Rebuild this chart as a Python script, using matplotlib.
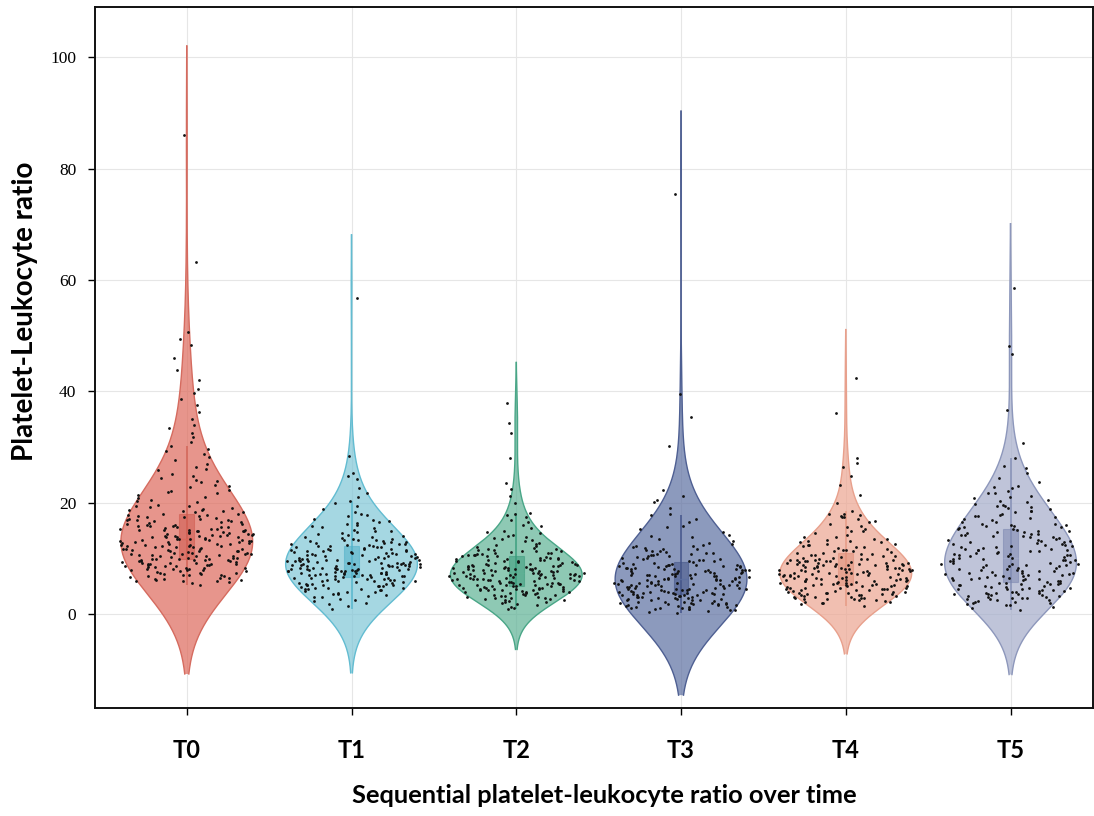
import numpy as np
import matplotlib.pyplot as plt
from matplotlib.patches import Rectangle

# Data
labels = ['T0', 'T1', 'T2', 'T3', 'T4', 'T5']

t0 = [5.3, 5.8, 6.0, 6.2, 6.4, 6.5, 6.7, 6.9, 7.0, 7.1, 7.3, 7.4, 7.6, 7.8, 7.9, 5.6, 6.1, 6.6, 7.2, 7.7,
      6.3, 6.8, 7.5, 7.9, 6.0, 7.0, 5.9, 7.4,
      8.0, 8.2, 8.3, 8.5, 8.7, 8.8, 9.0, 9.1, 9.3, 9.4, 9.6, 9.8, 9.9, 10.1, 10.2, 10.4, 10.5, 10.7, 10.9, 11.0,
      11.2, 11.3, 11.5, 11.7, 11.8, 8.1, 8.6, 9.2, 9.7, 10.3, 10.8, 11.4, 11.9, 8.4, 8.9, 9.5, 10.0, 10.6, 11.1,
      11.6, 8.3, 9.0, 9.9, 10.4, 11.3, 8.8, 9.6, 10.2, 11.0, 11.8, 9.3, 10.7, 8.5, 10.9, 9.8, 8.2, 9.1, 9.7,
      10.5, 11.4, 8.7, 10.0, 11.7, 9.4, 10.8,
      12.0, 12.2, 12.3, 12.5, 12.7, 12.8, 13.0, 13.1, 13.3, 13.5, 13.6, 13.8, 14.0, 14.1, 14.3, 14.4, 14.6, 14.8,
      14.9, 15.1, 15.2, 15.4, 15.6, 15.7, 15.9, 12.1, 12.6, 13.2, 13.7, 14.2, 14.7, 15.3, 15.8, 12.4, 12.9, 13.4,
      13.9, 14.5, 15.0, 15.5, 12.0, 12.8, 13.6, 14.4, 15.2, 12.5, 13.3, 14.1, 14.9, 15.6, 13.0, 14.0, 15.0, 12.2,
      13.8, 12.3, 13.1, 13.9, 14.6, 15.4, 12.7, 13.5, 14.3, 15.1, 15.8,
      16.0, 16.2, 16.4, 16.6, 16.8, 17.0, 17.2, 17.4, 17.6, 17.8, 18.0, 18.3, 18.5, 18.7, 18.9, 19.2, 19.4, 16.1,
      16.5, 16.9, 17.3, 17.7, 18.1, 18.6, 19.0, 19.5, 16.3, 17.1, 17.9, 18.8, 19.6, 16.7, 17.5, 18.4, 16.9,
      20.1, 20.6, 21.1, 21.5, 22.0, 22.4, 22.8, 23.3, 23.7, 24.1, 24.5, 24.9, 20.9, 21.7, 23.0, 23.9, 20.4, 22.2,
      25.2, 25.9, 26.5, 27.0, 27.7, 28.3, 28.8, 29.3, 26.1, 29.7,
      30.2, 31.0, 31.8, 32.5, 33.4, 34.0, 35.1, 36.3, 37.5, 38.6, 39.8,
      40.5, 42.0, 43.9, 46.0, 48.3, 49.5, 50.6, 63.2, 86.0]

t1 = [0.9, 1.5, 2.0, 2.4, 2.8, 3.1, 3.3, 3.5, 3.7, 3.9, 2.6, 3.2, 1.8, 3.6,
      4.0, 4.2, 4.4, 4.5, 4.7, 4.9, 5.0, 5.2, 5.3, 5.5, 5.6, 5.8, 5.9, 6.1, 6.2, 6.4, 6.5, 6.7, 6.8, 6.9, 4.1,
      4.6, 5.1, 5.4, 5.7, 6.0, 6.3, 6.6, 6.9, 4.3, 4.8, 5.2, 5.8, 6.4, 6.8, 4.5, 5.5, 6.1, 6.7, 5.0, 6.0, 4.7,
      5.3, 6.5, 5.9,
      7.0, 7.1, 7.2, 7.3, 7.4, 7.5, 7.6, 7.7, 7.8, 7.9, 8.0, 8.1, 8.2, 8.3, 8.4, 8.5, 8.6, 8.7, 8.8, 8.9, 9.0,
      9.1, 9.2, 9.3, 9.4, 9.5, 9.6, 9.7, 9.8, 9.9, 7.1, 7.3, 7.6, 7.9, 8.1, 8.4, 8.7, 8.9, 9.2, 9.5, 9.8, 7.2,
      7.5, 7.8, 8.2, 8.5, 8.8, 9.1, 9.4, 9.7, 7.0, 7.4, 7.7, 8.0, 8.3, 8.6, 9.0, 9.3, 9.6, 9.9, 7.2, 7.8, 8.4,
      9.0, 9.6, 7.5, 8.1, 8.7, 9.3, 8.2,
      10.0, 10.2, 10.3, 10.5, 10.6, 10.8, 10.9, 11.1, 11.2, 11.4, 11.5, 11.7, 11.8, 12.0, 12.2, 12.4, 12.6, 12.8,
      13.0, 13.2, 13.4, 13.6, 13.8, 10.1, 10.4, 10.7, 11.0, 11.3, 11.6, 11.9, 12.3, 12.7, 13.1, 13.5, 13.9, 10.2,
      10.6, 11.0, 11.4, 11.8, 12.1, 12.5, 12.9, 13.3, 13.7, 10.3, 10.9, 11.5, 12.2, 12.8, 13.4, 10.5, 11.2, 12.0,
      12.6,
      14.1, 14.3, 14.6, 14.9, 15.2, 15.5, 15.8, 16.1, 16.4, 16.8, 17.2, 17.6, 18.0, 18.4, 18.9, 19.4, 19.9, 14.4,
      15.0, 15.7, 16.3, 17.0, 17.9, 14.8, 16.6,
      20.3, 21.0, 21.8, 22.7, 24.3, 24.9, 25.4, 28.5, 56.7]

t2 = [0.9, 1.2, 1.6, 1.9, 2.1, 2.3, 2.5, 2.7, 2.9, 3.0, 3.1, 3.2, 3.3, 3.4, 3.5, 3.6, 3.7, 3.8, 3.9, 2.4, 2.8,
      3.0, 3.5, 1.4, 2.6, 3.3, 3.8, 2.2,
      4.0, 4.1, 4.2, 4.3, 4.4, 4.5, 4.6, 4.7, 4.8, 4.9, 5.0, 5.1, 5.2, 5.3, 5.4, 5.5, 5.6, 5.7, 5.8, 5.9, 4.2,
      4.4, 4.6, 4.8, 5.0, 5.2, 5.4, 5.6, 5.8, 4.1, 4.5, 4.9, 5.3, 5.7, 4.3, 4.7, 5.1, 5.5, 5.9, 4.6,
      6.0, 6.1, 6.2, 6.3, 6.4, 6.5, 6.6, 6.7, 6.8, 6.9, 7.0, 7.1, 7.2, 7.3, 7.4, 7.5, 7.6, 7.7, 7.8, 7.9, 8.0,
      8.1, 8.2, 8.3, 8.4, 8.5, 8.6, 8.7, 8.8, 8.9, 6.1, 6.3, 6.5, 6.7, 6.9, 7.1, 7.3, 7.5, 7.7, 7.9, 8.1, 8.3,
      8.5, 8.7, 8.9, 6.2, 6.6, 7.0, 7.4, 7.8, 8.2, 8.6, 6.4, 6.8, 7.2, 7.6, 8.0, 8.4, 8.8, 7.0, 7.5, 8.0, 6.5,
      7.3, 8.5,
      9.0, 9.1, 9.3, 9.4, 9.5, 9.7, 9.8, 10.0, 10.1, 10.3, 10.4, 10.6, 10.7, 10.9, 11.0, 11.2, 11.3, 11.5, 11.7,
      11.9, 9.2, 9.6, 9.9, 10.2, 10.5, 10.8, 11.1, 11.4, 11.8, 9.0, 9.4, 9.8, 10.2, 10.6, 11.0, 11.6, 9.5, 10.4,
      11.3, 10.0,
      12.1, 12.4, 12.8, 13.1, 13.5, 13.9, 14.2, 14.6, 15.0, 15.5, 16.0, 16.5, 16.9, 12.6, 13.3, 14.0, 14.8, 15.8,
      12.2, 13.7,
      17.5, 17.8, 18.0, 18.2, 20.0, 21.2, 22.5, 23.6, 28.0, 32.6, 34.4, 38.0]

t3 = [0.3, 0.5, 0.6, 0.8, 0.9, 1.0, 1.1, 1.2, 1.3, 1.4, 1.5, 1.6, 1.7, 1.8, 1.9, 2.0, 2.1, 2.2, 2.3, 2.4, 2.5,
      2.6, 2.7, 2.8, 2.9, 0.7, 1.1, 1.5, 1.9, 2.3, 2.7, 1.3, 1.7, 2.1, 2.5, 2.9, 1.0, 2.0, 2.6, 1.8,
      3.0, 3.1, 3.2, 3.3, 3.4, 3.5, 3.6, 3.7, 3.8, 3.9, 4.0, 4.1, 4.2, 4.3, 4.4, 4.5, 4.6, 4.7, 4.8, 4.9, 5.0,
      5.1, 5.2, 5.3, 5.4, 5.5, 5.6, 5.7, 5.8, 5.9, 3.1, 3.3, 3.5, 3.7, 3.9, 4.1, 4.3, 4.5, 4.7, 4.9, 5.1, 5.3,
      5.5, 5.7, 5.9, 3.2, 3.6, 4.0, 4.4, 4.8, 5.2, 5.6, 3.4, 3.8, 4.2, 4.6, 5.0, 5.4, 5.8, 4.0,
      6.0, 6.1, 6.2, 6.3, 6.4, 6.5, 6.6, 6.7, 6.8, 6.9, 7.0, 7.1, 7.2, 7.3, 7.4, 7.5, 7.6, 7.7, 7.8, 7.9, 8.0,
      8.1, 8.2, 8.3, 8.4, 8.5, 8.6, 8.7, 8.8, 8.9, 6.2, 6.5, 6.8, 7.1, 7.4, 7.7, 8.0, 8.3, 8.6, 8.9, 6.1, 6.4,
      6.7, 7.0, 7.3, 7.6, 7.9, 8.2, 8.5, 8.8, 6.3, 6.9, 7.5, 8.1, 8.7,
      9.0, 9.1, 9.3, 9.5, 9.6, 9.8, 10.0, 10.2, 10.4, 10.6, 10.8, 11.0, 11.2, 11.4, 11.7, 11.9, 12.2, 12.5, 12.8,
      9.2, 9.7, 10.1, 10.5, 10.9, 11.3, 11.8, 12.3, 9.4, 10.3, 11.1, 12.0, 12.7, 9.9, 10.7, 11.5,
      13.1, 13.5, 13.9, 14.3, 14.8, 15.3, 15.9, 16.5, 17.2, 18.0, 19.0, 20.1, 20.6, 21.2, 22.4, 14.0, 15.6, 17.8,
      30.3, 35.5, 39.6, 75.5]

t4 = [1.5, 1.8, 2.0, 2.2, 2.4, 2.5, 2.7, 2.8, 3.0, 3.1, 3.2, 3.3, 3.4, 3.5, 3.6, 3.7, 3.8, 3.9, 2.3, 2.6, 2.9,
      3.2, 3.5, 3.8, 2.1, 2.7, 3.3, 3.6, 3.0, 3.9,
      4.0, 4.1, 4.2, 4.3, 4.4, 4.5, 4.6, 4.7, 4.8, 4.9, 5.0, 5.1, 5.2, 5.3, 5.4, 5.5, 5.6, 5.7, 5.8, 5.9, 6.0,
      6.1, 6.2, 6.3, 6.4, 6.5, 6.6, 6.7, 6.8, 6.9, 4.1, 4.4, 4.7, 5.0, 5.3, 5.6, 5.9, 6.2, 6.5, 6.8, 4.2, 4.6,
      5.1, 5.5, 5.8, 6.3, 6.7, 4.5, 5.2, 6.0, 6.6, 4.8, 5.4, 6.1, 6.9,
      7.0, 7.1, 7.2, 7.3, 7.4, 7.5, 7.6, 7.7, 7.8, 7.9, 8.0, 8.1, 8.2, 8.3, 8.4, 8.5, 8.6, 8.7, 8.8, 8.9, 9.0,
      9.1, 9.2, 9.3, 9.4, 9.5, 9.6, 9.7, 9.8, 9.9, 7.1, 7.4, 7.7, 8.0, 8.3, 8.6, 8.9, 9.2, 9.5, 9.8, 7.2, 7.6,
      8.1, 8.5, 8.9, 9.3, 9.7, 7.5, 8.2, 8.8, 9.4, 7.9, 8.4, 9.0, 9.6, 7.3, 8.7, 9.1, 7.8, 9.9,
      10.0, 10.2, 10.3, 10.5, 10.7, 10.8, 11.0, 11.2, 11.4, 11.6, 11.8, 12.0, 12.2, 12.5, 12.7, 13.0, 13.3, 13.6,
      13.9, 10.1, 10.6, 11.1, 11.5, 12.1, 12.6, 13.1, 13.5, 10.4, 11.3, 12.4, 13.2, 10.9, 11.9, 12.9, 13.8,
      14.2, 14.6, 15.0, 15.4, 15.9, 16.3, 16.8, 17.2, 17.5, 17.7, 17.9, 18.1, 18.5, 14.9, 15.7, 16.5, 17.4, 18.0,
      20.0, 21.5, 23.3, 24.8, 26.5, 27.2, 28.0, 36.1, 42.5]

t5 = [0.8, 1.2, 1.6, 1.9, 2.2, 2.4, 2.6, 2.8, 3.0, 3.1, 3.3, 3.4, 3.6, 3.7, 3.9, 1.4, 2.0, 2.5, 2.9, 3.2, 3.5,
      3.8, 2.1, 2.7, 3.3, 3.9, 1.7, 2.3, 3.0, 3.6,
      4.0, 4.2, 4.3, 4.5, 4.6, 4.8, 4.9, 5.1, 5.2, 5.4, 5.5, 5.7, 5.8, 6.0, 6.1, 6.3, 6.4, 6.6, 6.7, 6.9, 7.0,
      7.2, 7.3, 7.5, 7.6, 7.8, 7.9, 4.1, 4.4, 4.7, 5.0, 5.3, 5.6, 5.9, 6.2, 6.5, 6.8, 7.1, 7.4, 7.7, 4.2, 4.9,
      5.6, 6.3, 7.0, 7.7, 4.6, 5.4, 6.6, 7.4,
      8.0, 8.2, 8.3, 8.5, 8.7, 8.8, 9.0, 9.2, 9.3, 9.5, 9.7, 9.8, 10.0, 10.2, 10.3, 10.5, 10.7, 10.8, 11.0, 11.2,
      11.3, 11.5, 11.7, 11.8, 8.1, 8.6, 9.1, 9.6, 10.1, 10.6, 11.1, 11.6, 8.4, 8.9, 9.4, 9.9, 10.4, 10.9, 11.4,
      11.9, 8.8, 9.7, 10.6, 11.5, 9.0,
      12.0, 12.2, 12.4, 12.6, 12.8, 13.0, 13.2, 13.4, 13.6, 13.8, 14.0, 14.2, 14.4, 14.6, 14.8, 15.0, 15.2, 15.4,
      15.6, 15.8, 16.0, 16.3, 16.6, 16.9, 12.1, 12.5, 12.9, 13.3, 13.7, 14.1, 14.5, 14.9, 15.3, 15.7, 16.1, 16.5,
      12.3, 13.1, 13.9, 14.7, 15.5, 16.2, 12.7, 14.3, 15.9,
      17.1, 17.4, 17.7, 18.0, 18.3, 18.6, 18.9, 19.2, 19.5, 19.8, 20.1, 20.5, 20.9, 21.3, 21.7, 22.1, 22.6, 23.1,
      23.7, 17.3, 17.9, 18.5, 19.1, 19.7, 20.3, 21.0, 21.8, 22.8, 17.6, 19.4,
      24.5, 25.4, 26.3, 26.6, 28.1, 30.8, 36.7, 46.8, 48.2, 58.5]

groups = [t0, t1, t2, t3, t4, t5]

bandwidths = [8.0, 5.7, 3.6, 7.4, 4.3, 5.8]
colors = ['#DE695B', '#7FC6D7', '#5EB295', '#5C6FA1', '#ECA591', '#A4ACCA']
edge_colors = ['#D56B5F', '#62BCD1', '#49A687', '#4E5F92', '#E8A08C', '#8D97BB']
box_colors = ['#CF5A4E', '#4FB0C8', '#3A9A7B', '#435487', '#E08E78', '#7C87B0']

# Plot
fig = plt.figure(figsize=(10.94, 8.16), dpi=100)
ax = fig.add_axes([0.0864, 0.1324, 0.9126, 0.8590])

rng = np.random.default_rng(7)
half_width = 0.4
box_w = 0.045

for i, (vals, bw, col, ecol, bcol) in enumerate(zip(groups, bandwidths, colors, edge_colors, box_colors)):
    vals = np.asarray(vals)
    grid = np.linspace(vals.min() - 2 * bw, vals.max() + 2 * bw, 500)
    dens = np.exp(-0.5 * ((grid[:, None] - vals[None, :]) / bw) ** 2).sum(axis=1)
    half = dens / dens.max() * half_width

    ax.fill_betweenx(grid, i - half, i + half, facecolor=col, alpha=0.7, linewidth=0, zorder=2)
    ax.plot(i - half, grid, color=ecol, lw=1.0, zorder=2)
    ax.plot(i + half, grid, color=ecol, lw=1.0, zorder=2)

    # box + whiskers
    q1, med, q3 = np.percentile(vals, [25, 50, 75])
    iqr = q3 - q1
    w_lo = vals[vals >= q1 - 1.5 * iqr].min()
    w_hi = vals[vals <= q3 + 1.5 * iqr].max()
    ax.vlines(i, w_lo, w_hi, color=ecol, lw=1.3, zorder=3)
    ax.add_patch(Rectangle((i - box_w, q1), 2 * box_w, q3 - q1, facecolor=bcol, alpha=0.55,
                           edgecolor=bcol, lw=0.8, zorder=3))
    ax.hlines(med, i - box_w, i + box_w, color=col, lw=1.0, alpha=0.8, zorder=3)

    # jittered points, spread by the violin width at each value
    spread = np.interp(vals, grid, half) * 0.9 + 0.06
    jit = rng.uniform(-1, 1, len(vals)) * spread
    ax.scatter(i + jit, vals, s=4, c='#111111', linewidths=0, zorder=4)

ax.set_xlim(-0.56, 5.5)
ax.set_ylim(-16.8, 109.0)
ax.set_xticks(range(len(labels)))
ax.set_xticklabels(labels, fontfamily='Lato', fontweight='bold', fontsize=17)
ax.set_yticks([0, 20, 40, 60, 80, 100])
for lab in ax.get_yticklabels():
    lab.set_fontfamily('Liberation Serif')
    lab.set_fontsize(12.5)
ax.tick_params(axis='x', length=5, pad=17, width=1)
ax.tick_params(axis='y', length=5, pad=8, width=1)
ax.grid(True, color='#e6e6e6', lw=0.8, zorder=0)
ax.set_axisbelow(True)
for sp in ax.spines.values():
    sp.set_linewidth(1.4)
    sp.set_color('#111111')

ax.set_xlabel('Sequential platelet-leukocyte ratio over time', fontfamily='Lato',
              fontweight='bold', fontsize=18.3)
ax.xaxis.set_label_coords(0.511, -0.108)
ax.set_ylabel('Platelet-Leukocyte ratio', fontfamily='Lato', fontweight='bold', fontsize=20)
ax.yaxis.set_label_coords(-0.057, 0.566)

fig.savefig('out.png', dpi=100)
